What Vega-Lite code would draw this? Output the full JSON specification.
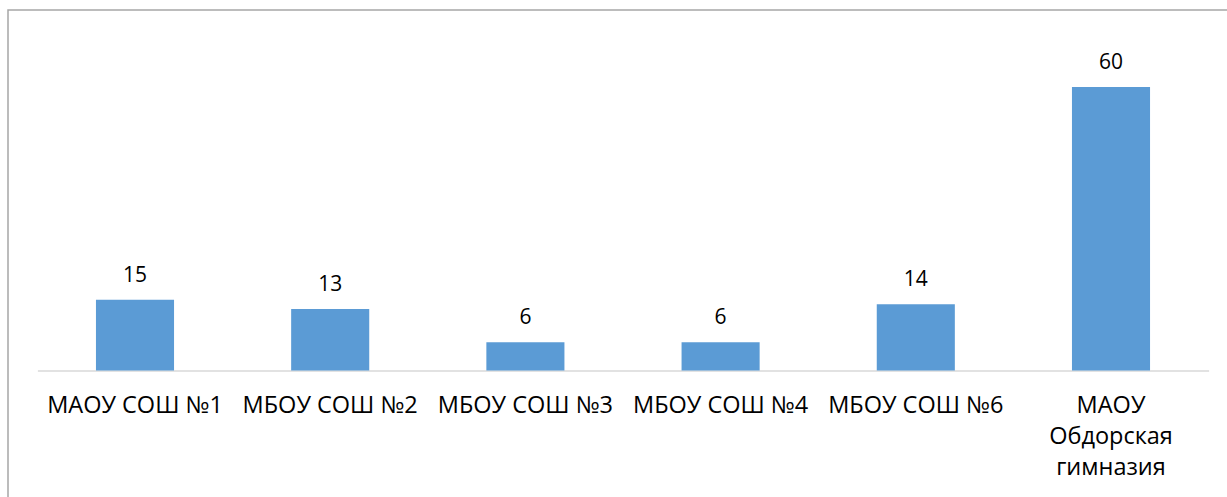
{
  "$schema": "https://vega.github.io/schema/vega-lite/v6.json",
  "width": 1222,
  "height": 490,
  "autosize": {"type": "none"},
  "padding": {"left": 8, "top": 10, "right": 0, "bottom": 0},
  "background": "white",
  "config": {
    "view": {"stroke": "#a6a6a6", "strokeWidth": 1.5},
    "font": "Open Sans"
  },
  "data": {
    "values": [
      {"school": "МАОУ СОШ №1", "count": 15},
      {"school": "МБОУ СОШ №2", "count": 13},
      {"school": "МБОУ СОШ №3", "count": 6},
      {"school": "МБОУ СОШ №4", "count": 6},
      {"school": "МБОУ СОШ №6", "count": 14},
      {"school": "МАОУ Обдорская гимназия", "count": 60}
    ]
  },
  "encoding": {
    "x": {
      "field": "school",
      "type": "nominal",
      "sort": null,
      "scale": {"range": [29.4, 1200.6], "paddingInner": 0.6, "paddingOuter": 0.3},
      "axis": {
        "title": null,
        "orient": "bottom",
        "offset": -129.5,
        "labelAngle": 0,
        "ticks": false,
        "grid": false,
        "domainColor": "#d9d9d9",
        "domainWidth": 1.5,
        "labelFontSize": 23.5,
        "labelColor": "#000000",
        "labelPadding": 23,
        "labelLimit": 400,
        "labelLineHeight": 31,
        "labelOverlap": false,
        "labelExpr": "datum.label == 'МАОУ Обдорская гимназия' ? ['МАОУ', 'Обдорская', 'гимназия'] : datum.label"
      }
    },
    "y": {
      "field": "count",
      "type": "quantitative",
      "scale": {"domain": [0, 60], "range": [360.5, 77], "nice": false, "zero": true},
      "axis": null
    }
  },
  "layer": [
    {"mark": {"type": "bar", "color": "#5B9BD5"}},
    {
      "mark": {"type": "text", "baseline": "alphabetic", "dy": -18, "fontSize": 21, "color": "#000000"},
      "encoding": {"text": {"field": "count", "type": "quantitative"}}
    }
  ]
}
